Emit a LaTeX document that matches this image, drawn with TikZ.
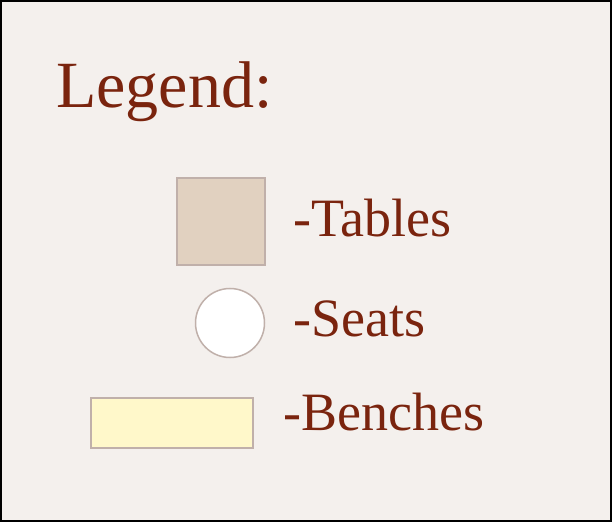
\documentclass[tikz,border=0pt]{standalone}
\usepackage{fontspec}
\setmainfont{Liberation Serif}
\usepackage{xcolor}
\usepackage{tikz}
\usetikzlibrary{shapes, positioning}

\definecolor{paper}{RGB}{244,240,237}
\definecolor{ink}{RGB}{122,36,14}
\definecolor{tablefill}{RGB}{225,209,192}
\definecolor{benchfill}{RGB}{255,248,202}
\definecolor{edge}{RGB}{192,176,170}

\begin{document}
\begin{tikzpicture}[
            x=1pt, y=1pt,
            item/.style={anchor=base west, inner sep=0pt, text=ink, font=\fontsize{54}{60}\selectfont},
            swatch/.style={draw=edge, line width=2pt, inner sep=0pt}
        ]
            \useasboundingbox (0,0) rectangle (612,522);
            \fill[paper] (0,0) rectangle (612,522);
            \draw[black, line width=2pt] (1,1) rectangle (611,521);

            \node[item, font=\fontsize{66}{72}\selectfont] (title) at (56,414) {Legend:};

            \node[swatch, rectangle, fill=tablefill, minimum width=88pt, minimum height=87pt] (tables) at (220.5,300.5) {};
            \node[swatch, circle, fill=white, line width=1.5pt, minimum size=69pt] (seats) at (230,199) {};
            \node[swatch, rectangle, fill=benchfill, minimum width=162pt, minimum height=50pt] (benches) at (171.5,99.5) {};

            \node[item] (tableslbl)  at (293,285) {-Tables};
            \node[item] (seatslbl)   at (293,185) {-Seats};
            \node[item] (bencheslbl) at (283,92)  {-Benches};
        \end{tikzpicture}
\end{document}
